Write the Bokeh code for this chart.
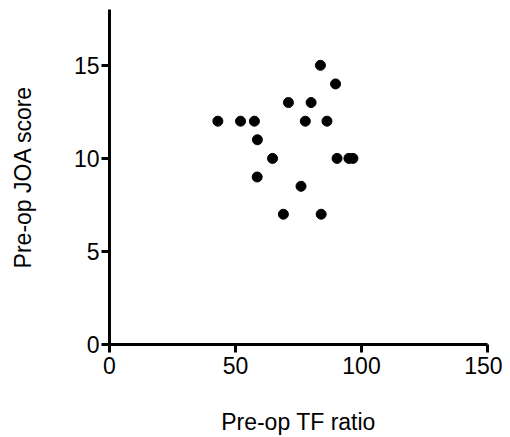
from bokeh.plotting import figure
from bokeh.models import Range1d, FixedTicker
from bokeh.embed import file_html
from bokeh.resources import INLINE

tf_ratio = [43, 52, 57.5, 58.7, 64.7, 58.6, 71, 80, 77.7, 83.7, 89.7, 86.3, 90.3, 95, 96.6, 76, 69, 84]
joa_score = [12, 12, 12, 11, 10, 9, 13, 13, 12, 15, 14, 12, 10, 10, 10, 8.5, 7, 7]
x_ticks = [0, 50, 100, 150]
y_ticks = [0, 5, 10, 15]

p = figure(width=502, height=437, output_backend="svg", toolbar_location=None,
           x_range=Range1d(0, 150), y_range=Range1d(0, 18),
           min_border_left=109, min_border_right=15, min_border_top=9, min_border_bottom=93)
p.outline_line_color = None
p.grid.visible = False
p.background_fill_color = "white"
p.border_fill_color = "white"

p.scatter(tf_ratio, joa_score, size=10, color="black")

font = "Liberation Sans"
p.xaxis.ticker = FixedTicker(ticks=x_ticks)
p.yaxis.ticker = FixedTicker(ticks=y_ticks)
for ax in (p.xaxis, p.yaxis):
    ax.axis_line_width = 3
    ax.axis_line_color = "black"
    ax.major_tick_line_width = 3
    ax.major_tick_line_color = "black"
    ax.major_tick_in = 0
    ax.major_tick_out = 8
    ax.minor_tick_line_color = None
    ax.major_label_text_font = font
    ax.major_label_text_font_size = "23px"
    ax.major_label_text_color = "black"
    ax.axis_label_text_font = font
    ax.axis_label_text_font_style = "normal"
    ax.axis_label_text_color = "black"

p.xaxis.axis_label = "Pre-op TF ratio"
p.xaxis.axis_label_text_font_size = "23px"
p.xaxis.major_label_standoff = 4
p.xaxis.axis_label_standoff = 32

p.yaxis.axis_label = "Pre-op JOA score"
p.yaxis.axis_label_text_font_size = "23px"
p.yaxis.major_label_standoff = 2
p.yaxis.axis_label_standoff = 35

open("out.html", "w").write(file_html(p, INLINE))
